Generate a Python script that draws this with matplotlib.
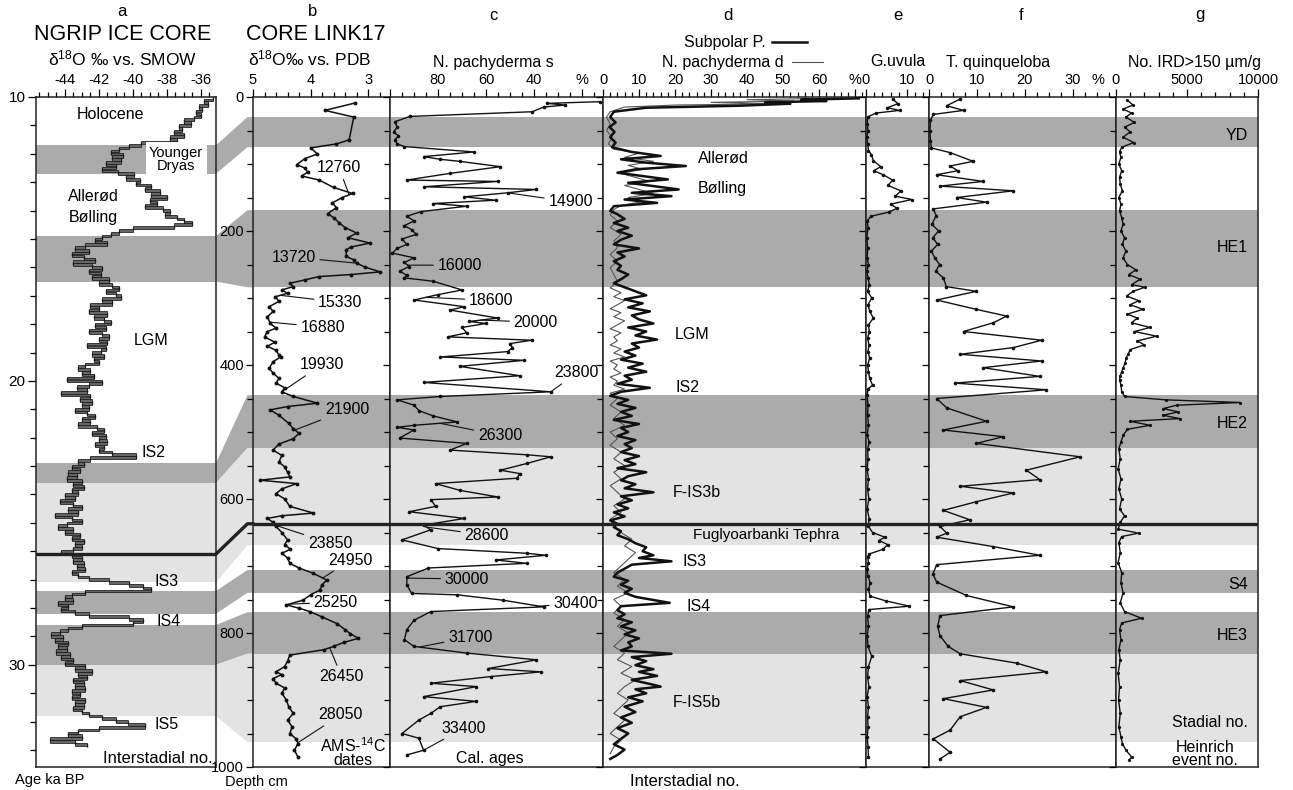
import numpy as np
import matplotlib
matplotlib.use('Agg')
import matplotlib.pyplot as plt
from matplotlib.patches import Polygon
from matplotlib.lines import Line2D
from matplotlib.ticker import MultipleLocator, FixedLocator, FixedFormatter, NullFormatter

plt.rcParams['font.family'] = ['Liberation Sans', 'DejaVu Sans']
plt.rcParams['mathtext.fontset'] = 'custom'
plt.rcParams['mathtext.rm'] = 'Liberation Sans'
plt.rcParams['mathtext.it'] = 'Liberation Sans:italic'
plt.rcParams['axes.unicode_minus'] = False

# ---------------- data ----------------
# stadial / Heinrich bands: ages (ka, NGRIP) and matching depths (cm, LINK17)
band_kind = ['dark', 'dark', 'dark', 'light', 'dark', 'dark', 'light']
age_top = [11.7, 14.9, 22.9, 23.6, 27.4, 28.6, 30.0]
age_bot = [12.7, 16.5, 23.6, 27.1, 28.2, 30.0, 31.8]
depth_top = [30, 169, 445, 524, 706, 769, 831]
depth_bot = [75, 284, 524, 669, 740, 831, 963]
tephra_age = 26.1
tephra_depth = 637

# a: NGRIP d18O
ngrip_age = [10.0, 10.1, 10.2, 10.3, 10.4, 10.5, 10.6, 10.7, 10.8, 10.9,
             11.0, 11.1, 11.2, 11.3, 11.4, 11.5, 11.6, 11.7, 11.8, 11.9,
             12.0, 12.1, 12.2, 12.3, 12.4, 12.5, 12.6, 12.7, 12.8, 12.9,
             13.0, 13.1, 13.2, 13.3, 13.4, 13.5, 13.6, 13.7, 13.8, 13.9,
             14.0, 14.1, 14.2, 14.3, 14.4, 14.5, 14.6, 14.7, 14.8, 14.9,
             15.0, 15.1, 15.2, 15.3, 15.4, 15.5, 15.6, 15.7, 15.8, 15.9,
             16.0, 16.1, 16.2, 16.3, 16.4, 16.5, 16.6, 16.7, 16.8, 16.9,
             17.0, 17.1, 17.2, 17.3, 17.4, 17.5, 17.6, 17.7, 17.8, 17.9,
             18.0, 18.1, 18.2, 18.3, 18.4, 18.5, 18.6, 18.7, 18.8, 18.9,
             19.0, 19.1, 19.2, 19.3, 19.4, 19.5, 19.6, 19.7, 19.8, 19.9,
             20.0, 20.1, 20.2, 20.3, 20.4, 20.5, 20.6, 20.7, 20.8, 20.9,
             21.0, 21.1, 21.2, 21.3, 21.4, 21.5, 21.6, 21.7, 21.8, 21.9,
             22.0, 22.1, 22.2, 22.3, 22.4, 22.5, 22.6, 22.7, 22.8, 22.9,
             23.0, 23.1, 23.2, 23.3, 23.4, 23.5, 23.6, 23.7, 23.8, 23.9,
             24.0, 24.1, 24.2, 24.3, 24.4, 24.5, 24.6, 24.7, 24.8, 24.9,
             25.0, 25.1, 25.2, 25.3, 25.4, 25.5, 25.6, 25.7, 25.8, 25.9,
             26.0, 26.1, 26.2, 26.3, 26.4, 26.5, 26.6, 26.7, 26.8, 26.9,
             27.0, 27.1, 27.2, 27.3, 27.4, 27.5, 27.6, 27.7, 27.8, 27.9,
             28.0, 28.1, 28.2, 28.3, 28.4, 28.5, 28.6, 28.7, 28.8, 28.9,
             29.0, 29.1, 29.2, 29.3, 29.4, 29.5, 29.6, 29.7, 29.8, 29.9,
             30.0, 30.1, 30.2, 30.3, 30.4, 30.5, 30.6, 30.7, 30.8, 30.9,
             31.0, 31.1, 31.2, 31.3, 31.4, 31.5, 31.6, 31.7, 31.8, 31.9,
             32.0, 32.1, 32.2, 32.3, 32.4, 32.5, 32.6, 32.7, 32.8]
ngrip_d18o = [-35.3, -35.8, -35.6, -36.1, -35.9, -36.3, -36.0, -36.4, -37.0, -36.6,
              -37.3, -37.1, -37.6, -37.0, -37.8, -37.4, -39.5, -40.2, -40.8, -41.3,
              -40.6, -41.2, -40.7, -41.6, -41.0, -41.8, -40.9, -39.9, -40.4, -39.6,
              -39.8, -38.9, -39.3, -38.4, -38.9, -38.0, -39.0, -38.6, -39.3, -38.2,
              -37.8, -38.1, -37.4, -37.0, -36.5, -37.6, -40.0, -40.8, -41.3, -41.8,
              -42.2, -41.5, -42.8, -43.4, -42.6, -43.6, -42.9, -42.2, -43.5, -42.4,
              -41.8, -42.6, -41.9, -42.4, -41.4, -42.0, -41.2, -40.8, -41.6, -41.0,
              -40.7, -41.8, -41.2, -42.5, -42.0, -42.6, -41.5, -42.3, -41.7, -41.3,
              -42.2, -41.6, -42.6, -41.8, -41.4, -42.0, -41.5, -42.7, -41.6, -41.9,
              -42.4, -41.7, -42.3, -42.0, -42.8, -43.2, -42.5, -43.0, -42.3, -43.9,
              -41.8, -42.6, -43.3, -42.7, -44.2, -42.5, -43.1, -42.4, -43.0, -42.6,
              -43.4, -42.7, -42.2, -43.0, -42.5, -43.2, -42.1, -41.7, -42.4, -41.6,
              -42.0, -41.5, -42.2, -41.7, -42.0, -41.2, -39.8, -42.5, -43.2, -42.9,
              -43.6, -43.1, -43.8, -43.3, -43.9, -43.0, -43.5, -42.9, -43.6, -43.2,
              -44.0, -43.4, -44.3, -43.5, -43.0, -43.8, -43.2, -44.6, -43.6, -43.0,
              -43.9, -44.4, -43.5, -44.0, -43.1, -43.6, -42.9, -43.4, -43.0, -43.5,
              -44.2, -43.6, -43.0, -43.5, -42.9, -43.3, -42.8, -43.6, -43.2, -42.6,
              -41.4, -40.2, -39.4, -38.9, -42.8, -43.6, -44.0, -43.5, -44.4, -43.8,
              -44.2, -43.4, -42.6, -40.2, -39.4, -40.0, -43.0, -43.8, -44.3, -44.8,
              -44.1, -44.6, -43.8, -44.4, -43.9, -44.5, -43.7, -44.2, -43.5, -44.0,
              -42.8, -43.4, -42.4, -43.2, -42.7, -43.5, -42.9, -43.4, -42.8, -43.6,
              -43.1, -43.6, -42.8, -43.4, -42.9, -43.5, -43.0, -42.6, -41.8, -41.0,
              -40.3, -39.3, -42.0, -43.2, -43.8, -43.0, -44.9, -43.4, -42.7]

# b: LINK17 d18O vs depth
b_depth = [9, 20, 30, 64, 70, 76, 85, 92, 101, 106, 112, 118, 124, 135, 144, 150, 158, 165,
           174, 180, 188, 195, 203, 210, 218, 224, 228, 238, 243, 248, 254, 261, 265, 268,
           273, 278, 283, 288, 293, 298, 305, 313, 320, 328, 338, 345, 350, 358, 366, 372,
           378, 385, 388, 395, 405, 412, 420, 427, 434, 440, 447, 457, 462, 467, 475, 487,
           495, 502, 510, 518, 527, 535, 545, 552, 560, 567, 572, 577, 585, 592, 600, 611,
           621, 625, 629, 635, 641, 650, 661, 668, 675, 681, 688, 696, 703, 711, 721, 728,
           736, 743, 751, 758, 763, 768, 776, 786, 795, 801, 808, 814, 820, 825, 833, 842,
           850, 858, 862, 868, 875, 882, 890, 900, 910, 920, 930, 940, 950, 958, 965, 975, 985]
b_d18o = [3.23, 3.75, 3.25, 3.33, 3.55, 4.0, 3.88, 4.1, 4.24, 4.1, 4.05, 4.15, 3.85, 3.6, 3.27,
          3.45, 3.62, 3.55, 3.7, 3.6, 3.5, 3.4, 3.2, 3.35, 2.97, 3.3, 3.38, 3.38, 3.25, 3.2,
          3.05, 2.79, 3.3, 3.85, 4.1, 4.36, 4.3, 4.5, 4.4, 4.61, 4.55, 4.72, 4.65, 4.75, 4.7,
          4.6, 4.75, 4.8, 4.62, 4.75, 4.6, 4.55, 4.52, 4.65, 4.72, 4.65, 4.55, 4.6, 4.45, 4.5,
          4.3, 3.88, 4.4, 4.7, 4.55, 4.38, 4.3, 4.2, 4.3, 4.55, 4.65, 4.5, 4.55, 4.45, 4.4,
          4.36, 4.88, 4.24, 4.5, 4.6, 4.45, 4.36, 3.95, 4.5, 4.75, 4.65, 4.6, 4.5, 4.4, 4.45,
          4.35, 4.5, 4.4, 4.36, 4.2, 3.95, 3.72, 3.8, 3.84, 4.0, 4.13, 4.42, 4.2, 4.01, 3.8,
          3.54, 3.4, 3.31, 3.17, 3.42, 3.6, 3.77, 4.36, 4.4, 4.45, 4.6, 4.5, 4.65, 4.6, 4.45,
          4.5, 4.42, 4.38, 4.3, 4.4, 4.32, 4.36, 4.25, 4.22, 4.28, 4.22]
b_dates = ['12760', '13720', '15330', '16880', '19930', '21900',
           '23850', '24950', '25250', '26450', '28050']
b_date_depth = [146, 248, 296, 336, 440, 497, 639, 718, 757, 822, 964]

# c: N. pachyderma s (%)
c_depth = [7, 9.5, 12, 15, 22, 29, 37, 45, 52, 58, 64, 70, 74, 82, 89, 93, 96, 104, 114, 124,
           126, 134, 138, 143, 149, 154, 159, 163, 171, 178, 185, 192, 198, 205, 212, 220,
           226, 233, 240, 247, 253, 260, 266, 270, 275, 288, 295, 303, 313, 318, 330, 335,
           338, 344, 352, 358, 363, 368, 374, 380, 388, 393, 402, 416, 426, 440, 447, 452,
           460, 468, 476, 485, 490, 493, 497, 509, 517, 527, 534, 537, 547, 557, 562, 569,
           577, 587, 597, 601, 611, 619, 629, 639, 646, 661, 674, 681, 684, 691, 696, 703,
           716, 728, 741, 743, 751, 761, 768, 781, 795, 810, 820, 830, 840, 853, 858, 865,
           875, 880, 895, 902, 910, 920, 930, 950, 957, 975, 982]
c_pct = [12.5, 34.7, 27, 36, 40.7, 91.7, 98, 97, 98.5, 96.5, 98, 97, 94, 65, 86, 79, 71, 54,
         75, 93, 55, 86, 39, 51, 69, 56, 82, 68, 87, 93, 90, 94, 91, 89, 95, 93, 97, 99, 90,
         94, 92, 96, 93, 94, 82, 70, 80, 90, 69, 75, 55, 67, 60, 70, 68, 76, 41, 50, 49, 51,
         79, 44, 71, 46, 86, 33, 79, 97, 90, 88, 82, 72, 90, 97, 90, 96, 68, 75, 43, 33, 43,
         54, 46, 47, 81, 71, 55, 83, 81, 92, 69, 86, 83, 95, 80, 43, 35, 56, 43, 84, 93, 93,
         91, 72, 53, 36, 83, 90, 93, 94, 90, 68, 39, 59, 37, 58, 83, 64, 86, 64, 79, 83, 88,
         95, 88, 86, 93]
c_dates = ['14900', '16000', '18600', '20000', '23800', '26300',
           '28600', '30000', '30400', '31700', '33400']
c_date_depth = [143, 251, 299, 333, 440, 487, 642, 718, 760, 821, 975]

# d: Subpolar planktic foraminifera and N. pachyderma d (%)
sp_depth = [2, 4, 6, 8, 10, 13, 16, 22, 30, 38, 45, 52, 60, 68, 75,
            82, 88, 93, 98, 103, 108, 113, 118, 123, 128, 133, 138, 143, 148, 153, 158, 163, 170,
            175, 182, 188, 195, 200, 207, 213, 220, 226, 232, 238, 245, 252, 258, 265, 272, 278, 284,
            290, 296, 302, 308, 314, 320, 326, 332, 338, 344, 350, 356, 362, 368, 374, 380, 386,
            392, 398, 404, 410, 416, 422, 428, 434, 440,
            446, 452, 458, 464, 470, 476, 482, 488, 494, 500, 506, 512, 518, 524,
            530, 536, 542, 548, 554, 560, 566, 572, 578, 584, 590, 596, 602, 608, 614, 620, 626,
            632, 637, 642, 648, 654, 660, 666, 672, 678, 684, 688, 693, 698, 704, 710,
            716, 722, 728, 734, 740, 746, 755, 760, 766, 772, 778, 784, 790, 796, 802, 808, 814,
            820, 826, 831, 836, 842, 848, 854, 858, 864, 870, 876, 880, 884, 890, 896, 902, 910,
            918, 926, 934, 942, 950, 958, 966, 974, 982, 988]
sp_pct = [71, 55, 62, 45, 52, 38, 12, 3, 2, 3.5, 1.8, 3.2, 2, 3.5, 2.5,
          8, 16, 5, 12, 23, 9, 4, 11, 18, 7, 14, 21, 8, 19, 6, 15, 3, 2,
          4, 6, 3, 7, 4, 8, 5, 3, 10, 4, 6, 3, 5, 4, 7, 5, 3, 6,
          9, 12, 6, 11, 7, 13, 8, 10, 14, 7, 12, 9, 15, 8, 10, 6, 9,
          5, 11, 7, 12, 6, 8, 4, 13, 5,
          2, 7, 4, 9, 5, 8, 3, 10, 5, 7, 4, 9, 6, 8,
          5, 10, 6, 9, 4, 12, 7, 5, 9, 6, 14, 5, 8, 4, 7, 3, 6,
          2, 4, 3, 5, 4, 7, 9, 12, 11, 14, 10, 19, 8, 6, 4,
          3, 7, 5, 8, 6, 9, 18.5, 5, 4, 6, 4, 8, 5, 9, 6, 10, 7,
          8, 5, 19, 8, 12, 9, 14, 10, 15, 8, 13, 16, 9, 12, 7, 11, 6,
          9, 5, 8, 4, 7, 5, 3, 6, 4, 2]
pd_depth = [2, 4, 6, 8, 10, 12, 15, 22, 30, 40, 50, 60, 70, 78, 84, 90, 96, 102, 108, 114,
            120, 126, 132, 138, 144, 150, 156, 162, 168, 176, 185, 195, 205, 215, 225, 235,
            245, 255, 265, 275, 285, 292, 298, 304, 310, 316, 322, 328, 334, 340, 346, 352,
            358, 364, 370, 376, 382, 388, 394, 400, 406, 412, 418, 424, 430, 436, 442, 450,
            460, 470, 480, 490, 500, 510, 520, 530, 540, 550, 560, 570, 580, 590, 600, 610,
            620, 630, 640, 650, 660, 670, 680, 690, 700, 710, 720, 730, 740, 750, 760, 770,
            780, 790, 800, 810, 820, 830, 840, 850, 860, 870, 880, 890, 900, 910, 920, 930,
            940, 950, 960, 970, 980]
pd_pct = [62, 40, 53, 30, 47, 20, 6, 2, 1, 2, 1, 2.5, 1.5, 3, 10, 6, 14, 7, 11, 5,
          9, 13, 6, 10, 14, 7, 11, 5, 3, 2, 4, 2, 5, 3, 4, 2,
          4, 2, 3, 4, 2, 5, 3, 6, 4, 2, 5, 3, 6, 4, 2, 5,
          3, 4, 2, 5, 3, 6, 2, 4, 3, 5, 2, 4, 3, 6, 2, 4,
          2, 5, 3, 6, 2, 4, 2, 5, 3, 6, 3, 5, 2, 4, 6, 3,
          5, 2, 3, 5, 8, 6, 9, 7, 5, 3, 6, 4, 7, 3, 5, 3,
          6, 4, 7, 5, 3, 6, 4, 8, 5, 9, 6, 4, 7, 5, 3, 6,
          4, 2, 5, 3, 2]

# e: G. uvula (%)
e_depth = [3, 10, 16, 20, 24, 30, 40, 50, 60, 70, 80, 86, 95, 104, 110, 116, 124, 132, 140,
           148, 153, 160, 166, 172, 178, 185, 195, 210, 225, 240, 250, 260, 270, 280, 290, 300,
           310, 320, 330, 340, 350, 360, 370, 380, 390, 400, 410, 420, 430, 436, 445, 460, 475,
           490, 505, 515, 525, 540, 555, 570, 585, 600, 615, 630, 640, 650, 657, 662, 668, 675,
           682, 686, 695, 705, 715, 725, 735, 745, 752, 760, 765, 775, 790, 805, 820, 835, 850,
           865, 880, 895, 910, 925, 940, 955, 970, 985]
e_pct = [6.5, 7.8, 5.2, 8.2, 2.4, 0.4, 0.3, 0.5, 0.2, 0.4, 0.6, 1.3, 1.8, 3.6, 1.9, 4.2, 6.5,
         5.4, 8.5, 7.2, 11.2, 6.0, 7.6, 5.5, 1.2, 0.3, 0.5, 0.2, 0.4, 0.3, 0.6, 0.2, 0.5, 0.8,
         0.4, 1.4, 0.5, 0.9, 1.8, 0.6, 0.8, 0.4, 0.7, 0.5, 0.9, 0.4, 0.6, 0.9, 1.6, 0.5, 0.3,
         0.5, 0.4, 0.6, 0.3, 0.8, 0.4, 0.5, 0.3, 0.6, 0.4, 0.7, 0.3, 0.8, 0.5, 1.6, 4.6, 3.2,
         5.3, 4.2, 0.8, 0.4, 0.6, 0.3, 0.5, 1.0, 0.6, 1.0, 4.8, 10.6, 0.7, 0.4, 0.6, 0.3, 0.5,
         1.4, 0.6, 0.4, 0.7, 0.3, 0.6, 0.4, 0.5, 0.3, 0.5, 0.6]

# f: T. quinqueloba (%)
f_depth = [3, 13, 20, 26, 35, 50, 65, 76, 83, 96, 103, 110, 116, 126, 133, 140, 150, 157, 167,
           177, 190, 200, 210, 220, 230, 240, 250, 260, 270, 283, 290, 303, 317, 327, 337, 350,
           363, 374, 384, 394, 404, 417, 427, 437, 450, 464, 484, 497, 507, 517, 537, 557, 571,
           581, 591, 604, 617, 631, 641, 651, 657, 671, 684, 698, 712, 724, 744, 761, 774, 790,
           804, 820, 831, 845, 858, 871, 885, 898, 911, 925, 945, 958, 978, 988]
f_pct = [6.5, 3.7, 7.2, 0.9, 0.3, 0.2, 0.3, 0.5, 4.4, 9.2, 4.4, 6.0, 1.6, 11.3, 2.3, 17.6, 5.8,
         12.0, 0.9, 1.5, 0.6, 2.0, 0.8, 1.8, 0.5, 1.2, 2.2, 1.4, 3.0, 3.6, 9.9, 1.6, 9.9, 16.2,
         13.4, 7.2, 23.5, 17.6, 6.5, 23.5, 11.3, 23.1, 5.4, 24.5, 1.6, 3.7, 12.0, 3.0, 15.5, 9.9,
         31.5, 20.3, 23.1, 6.5, 17.6, 9.9, 3.0, 8.5, 2.3, 3.7, 1.6, 13.4, 23.1, 1.6, 0.8, 1.6,
         7.8, 17.6, 2.3, 1.8, 2.3, 4.0, 6.5, 18.3, 24.5, 6.5, 13.4, 3.0, 12.0, 6.5, 4.4, 0.9,
         4.4, 2.3]

# g: IRD > 150 um per gram
g_depth = [5, 12, 18, 24, 30, 38, 45, 52, 60, 68, 75, 82, 90, 100, 110, 120, 130, 140, 150,
           160, 170, 180, 190, 200, 210, 220, 230, 240, 250, 258, 265, 272, 280, 284, 290, 297,
           304, 310, 317, 324, 330, 337, 344, 350, 357, 364, 370, 377, 384, 390, 397, 404, 410,
           416, 422, 430, 440, 447, 452, 456, 460, 465, 470, 475, 480, 484, 490, 496, 505, 515,
           525, 540, 555, 570, 585, 600, 615, 625, 635, 645, 651, 656, 665, 680, 695, 710, 725,
           740, 755, 768, 778, 785, 795, 810, 825, 840, 860, 880, 900, 920, 940, 955, 965, 975,
           985, 990]
g_ird = [800, 1200, 500, 1100, 700, 1300, 600, 1000, 500, 1250, 400, 250, 350, 200, 400, 250,
         300, 450, 200, 350, 250, 400, 500, 350, 600, 450, 700, 500, 800, 1400, 900, 1700, 1100,
         2040, 1200, 750, 1600, 1000, 1900, 800, 1500, 1100, 2400, 1300, 2860, 1500, 2000, 1000,
         850, 700, 650, 500, 400, 300, 250, 350, 400, 600, 3500, 8730, 4270, 3330, 4390, 3300,
         4500, 1000, 2400, 800, 500, 350, 200, 300, 150, 350, 200, 400, 250, 600, 300, 150, 1600,
         400, 200, 300, 150, 400, 350, 500, 300, 600, 1800, 400, 250, 350, 200, 300, 150, 250,
         180, 300, 200, 350, 450, 700, 1100, 900]

# ---------------- layout ----------------
W, H = 1293, 790
TOP, BOT = 97, 767
DARK, LIGHT = '#ababab', '#e3e3e3'
fig = plt.figure(figsize=(W / 100, H / 100), dpi=100)
fig.patch.set_facecolor('white')


def rect(x0, x1):
    return [x0 / W, 1 - BOT / H, (x1 - x0) / W, (BOT - TOP) / H]


def ftext(x, y, s, **kw):
    kw.setdefault('ha', 'center')
    kw.setdefault('va', 'center')
    return fig.text(x / W, 1 - y / H, s, **kw)


ax_a = fig.add_axes(rect(36, 216))
ax_b = fig.add_axes(rect(253, 390))
ax_c = fig.add_axes(rect(390, 603))
ax_d = fig.add_axes(rect(603, 866))
ax_e = fig.add_axes(rect(866, 929))
ax_f = fig.add_axes(rect(929, 1116))
ax_g = fig.add_axes(rect(1116, 1258))
core_axes = [ax_b, ax_c, ax_d, ax_e, ax_f, ax_g]

for ax in [ax_a] + core_axes:
    for sp in ax.spines.values():
        sp.set_linewidth(1.1)
        sp.set_color('#222222')
    ax.xaxis.tick_top()
    ax.tick_params(axis='x', which='both', direction='out', top=True, bottom=False,
                   labeltop=True, labelbottom=False, labelsize=10.5, pad=1.5, width=0.9)
    ax.tick_params(axis='x', which='major', length=6)
    ax.tick_params(axis='x', which='minor', length=3.5)
    ax.tick_params(axis='y', which='both', direction='out', right=False, width=0.9,
                   labelsize=10.5, pad=1.5)
    ax.tick_params(axis='y', which='major', length=5)
    ax.tick_params(axis='y', which='minor', length=4)

# bands
ax_a.set_ylim(33.6, 10)
for kind, a0, a1 in zip(band_kind, age_top, age_bot):
    ax_a.axhspan(a0, a1, color=DARK if kind == 'dark' else LIGHT, lw=0, zorder=0)
ax_a.axhline(tephra_age, color='#222222', lw=2.4, zorder=5)
for ax in core_axes:
    ax.set_ylim(1000, 0)
    for kind, d0, d1 in zip(band_kind, depth_top, depth_bot):
        ax.axhspan(d0, d1, color=DARK if kind == 'dark' else LIGHT, lw=0, zorder=0)
    ax.axhline(tephra_depth, color='#222222', lw=2.4, zorder=5)
    ax.yaxis.set_major_locator(FixedLocator([0, 200, 400, 600, 800, 1000]))
    ax.yaxis.set_minor_locator(MultipleLocator(50))
    if ax is not ax_b:
        ax.yaxis.set_major_formatter(NullFormatter())

# ---- a: NGRIP ----
ax_a.set_xlim(-45.7, -35.1)
edges = np.append(ngrip_age, ngrip_age[-1] + 0.1)
ax_a.stairs(ngrip_d18o, edges, orientation='horizontal', baseline=None,
            color='#111111', lw=1.0, zorder=3)
vals = np.array(ngrip_d18o)
ax_a.barh(ngrip_age[1:], np.diff(vals), left=vals[:-1], height=0.09,
          color='#666666', edgecolor='#111111', lw=0.5, zorder=4)
ax_a.xaxis.set_major_locator(FixedLocator([-44, -42, -40, -38, -36]))
ax_a.xaxis.set_minor_locator(MultipleLocator(0.5))
ax_a.yaxis.set_major_locator(FixedLocator([10, 20, 30]))
ax_a.yaxis.set_minor_locator(MultipleLocator(1))
ax_a.tick_params(axis='y', which='major', length=6, labelsize=11)
lab = dict(fontsize=11.5, zorder=6, va='center')
ax_a.text(-41.3, 10.63, 'Holocene', ha='center', **lab)
ax_a.text(-37.45, 12.2, 'Younger\nDryas', ha='center', fontsize=10.5, linespacing=0.95,
          va='center', zorder=6, bbox=dict(fc='white', ec='none', pad=2.5))
ax_a.text(-43.8, 13.52, 'Allerød', ha='left', **lab)
ax_a.text(-43.8, 14.26, 'Bølling', ha='left', **lab)
ax_a.text(-38.9, 18.56, 'LGM', ha='center', **lab)
ax_a.text(-39.5, 22.53, 'IS2', ha='left', **lab)
ax_a.text(-38.7, 27.08, 'IS3', ha='left', **lab)
ax_a.text(-38.6, 28.49, 'IS4', ha='left', **lab)
ax_a.text(-38.7, 32.11, 'IS5', ha='left', **lab)
ax_a.text(-35.3, 33.3, 'Interstadial no.', ha='right', va='center', fontsize=12, zorder=6)

# ---- b: LINK17 d18O ----
ax_b.set_xlim(5.0, 2.62)
ax_b.plot(b_d18o, b_depth, color='#111111', lw=1.1, marker='o', ms=1.8, zorder=3)
ax_b.xaxis.set_major_locator(FixedLocator([5, 4, 3]))
ax_b.xaxis.set_minor_locator(MultipleLocator(0.2))
b_off = [(-10, 27), (-63, 6), (60, -7), (53, -5), (40, 27), (52, 20),
         (55, -18), (28, 18), (47, 2), (12, -29), (43, 28)]
for s, dep, (dx, dy) in zip(b_dates, b_date_depth, b_off):
    ax_b.annotate(s, xy=(np.interp(dep, b_depth, b_d18o), dep),
                  xytext=(dx * 0.72, dy * 0.72), textcoords='offset points',
                  ha='center', va='center', fontsize=11.5, zorder=6,
                  arrowprops=dict(arrowstyle='-', color='#111111', lw=0.8,
                                  shrinkA=1, shrinkB=0))
ax_b.text(3.26, 978, 'AMS-$^{14}$C\ndates', ha='center', va='center', fontsize=11.5,
          linespacing=0.85, zorder=6)

# ---- c: N. pachyderma s ----
ax_c.set_xlim(100, 11.25)
ax_c.plot(c_pct, c_depth, color='#111111', lw=1.0, marker='o', ms=1.6, zorder=3)
ax_c.xaxis.set_major_locator(FixedLocator([100, 80, 60, 40, 20]))
ax_c.xaxis.set_major_formatter(FixedFormatter(['', '80', '60', '40', '%']))
ax_c.xaxis.set_minor_locator(MultipleLocator(5))
c_off = [(63, -9), (52, 0), (65, -3), (55, -2), (26, 19), (60, -12),
         (60, -8), (60, -1), (36, 3), (51, 10), (40, 22)]
for s, dep, (dx, dy) in zip(c_dates, c_date_depth, c_off):
    ax_c.annotate(s, xy=(np.interp(dep, c_depth, c_pct), dep),
                  xytext=(dx * 0.72, dy * 0.72), textcoords='offset points',
                  ha='center', va='center', fontsize=11.5, zorder=6,
                  arrowprops=dict(arrowstyle='-', color='#111111', lw=0.8,
                                  shrinkA=1, shrinkB=0))
ax_c.text(58.3, 987, 'Cal. ages', ha='center', va='center', fontsize=11.5, zorder=6)

# ---- d: subpolar / N. pachyderma d ----
ax_d.set_xlim(0, 73)
ax_d.plot(pd_pct, pd_depth, color='#555555', lw=0.8, zorder=3)
ax_d.plot(sp_pct, sp_depth, color='#111111', lw=1.8, zorder=4)
ax_d.xaxis.set_major_locator(FixedLocator([0, 10, 20, 30, 40, 50, 60, 70]))
ax_d.xaxis.set_major_formatter(FixedFormatter(['0', '10', '20', '30', '40', '50', '60', '%']))
ax_d.xaxis.set_minor_locator(MultipleLocator(2))
ax_d.text(26.4, 92.5, 'Allerød', ha='left', **lab)
ax_d.text(26.4, 136, 'Bølling', ha='left', **lab)
ax_d.text(20, 354, 'LGM', ha='left', **lab)
ax_d.text(20, 433, 'IS2', ha='left', **lab)
ax_d.text(19.4, 591, 'F-IS3b', ha='left', **lab)
ax_d.text(25, 654, 'Fuglyoarbanki Tephra', ha='left', fontsize=11, va='center', zorder=6)
ax_d.text(22.2, 694, 'IS3', ha='left', **lab)
ax_d.text(23.3, 761, 'IS4', ha='left', **lab)
ax_d.text(19.4, 904, 'F-IS5b', ha='left', **lab)

# ---- e: G. uvula ----
ax_e.set_xlim(0, 15.4)
ax_e.plot(e_pct, e_depth, color='#111111', lw=1.0, marker='o', ms=1.5, zorder=3)
ax_e.xaxis.set_major_locator(FixedLocator([0, 10]))
ax_e.xaxis.set_minor_locator(MultipleLocator(2))

# ---- f: T. quinqueloba ----
ax_f.set_xlim(0, 39)
ax_f.plot(f_pct, f_depth, color='#111111', lw=1.0, marker='o', ms=1.6, zorder=3)
ax_f.xaxis.set_major_locator(FixedLocator([0, 10, 20, 30]))
ax_f.xaxis.set_minor_locator(MultipleLocator(2.5))

# ---- g: IRD ----
ax_g.set_xlim(0, 10000)
ax_g.plot(g_ird, g_depth, color='#111111', lw=1.0, marker='o', ms=1.3, zorder=3)
ax_g.xaxis.set_major_locator(FixedLocator([0, 5000, 10000]))
ax_g.xaxis.set_minor_locator(MultipleLocator(1000))
for s, dep in zip(['YD', 'HE1', 'HE2', 'S4', 'HE3'], [57, 224, 487, 727, 804]):
    ax_g.text(9300, dep, s, ha='right', **lab)
ax_g.text(9300, 934, 'Stadial no.', ha='right', **lab)
ax_g.text(8600, 980, 'Heinrich\nevent no.', ha='right', multialignment='center',
          linespacing=0.85, fontsize=11.5, va='center', zorder=6)

# ---- connectors between ice core ages and sediment depths ----
inv = fig.transFigure.inverted()


def fig_y(ax, v):
    return inv.transform(ax.transData.transform((ax.get_xlim()[0], v)))[1]


xa = ax_a.get_position().x1
xb = ax_b.get_position().x0
xm = xa + 0.85 * (xb - xa)
for kind, a0, a1, d0, d1 in zip(band_kind, age_top, age_bot, depth_top, depth_bot):
    ya0, ya1 = fig_y(ax_a, a0), fig_y(ax_a, a1)
    yb0, yb1 = fig_y(ax_b, d0), fig_y(ax_b, d1)
    fig.add_artist(Polygon([(xa, ya0), (xm, yb0), (xb, yb0), (xb, yb1), (xm, yb1), (xa, ya1)],
                           closed=True, transform=fig.transFigure, lw=0,
                           fc=DARK if kind == 'dark' else LIGHT, zorder=0))
yt_a, yt_b = fig_y(ax_a, tephra_age), fig_y(ax_b, tephra_depth)
fig.add_artist(Line2D([xa, xm, xb], [yt_a, yt_b, yt_b], color='#222222', lw=2.4,
                      transform=fig.transFigure))

# ---- header / footer text ----
for x, s in [(122, 'a'), (313, 'b')]:
    ftext(x, 11, s, fontsize=12)
for x, s in [(493, 'c'), (728, 'd'), (898, 'e'), (1021, 'f'), (1200, 'g')]:
    ftext(x, 15, s, fontsize=12)
ftext(123, 34, 'NGRIP ICE CORE', fontsize=15.5)
ftext(316, 34, 'CORE LINK17', fontsize=15.5)
ftext(123, 58, 'δ$^{18}$O ‰ vs. SMOW', fontsize=12.5)
ftext(310, 58, 'δ$^{18}$O‰ vs. PDB', fontsize=12.5)
ftext(493, 62, 'N. pachyderma s', fontsize=11.5)
ftext(725, 42, 'Subpolar P.', fontsize=11.5)
ftext(723, 62, 'N. pachyderma d', fontsize=11.5)
fig.add_artist(Line2D([772 / W, 807 / W], [1 - 42 / H, 1 - 42 / H], color='#111111', lw=1.8))
fig.add_artist(Line2D([792 / W, 823 / W], [1 - 62 / H, 1 - 62 / H], color='#555555', lw=0.8))
ftext(898, 62, 'G.uvula', fontsize=11.5)
ftext(998, 62, 'T. quinqueloba', fontsize=11.5)
ftext(1194, 62, 'No. IRD>150 µm/g', fontsize=11.5)
ftext(1098, 80, '%', fontsize=10.5)
ftext(15, 780, 'Age ka BP', ha='left', fontsize=10.5)
ftext(225, 782, 'Depth cm', ha='left', fontsize=10.5)
ftext(630, 781, 'Interstadial no.', ha='left', fontsize=12)

fig.savefig('out.png', dpi=100)
